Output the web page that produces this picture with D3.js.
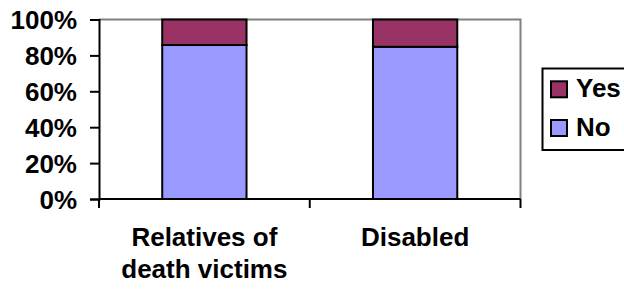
<!DOCTYPE html>
<html><head><meta charset="utf-8">
<script src="https://cdn.jsdelivr.net/npm/d3@7"></script>
<style>
html,body{margin:0;padding:0;background:#fff;}
svg{display:block;}
text{font-family:"Liberation Sans",Arial,sans-serif;font-weight:bold;fill:#000;}
</style></head>
<body><svg id="c" width="624" height="289"></svg>
<script>
const categories = [["Relatives of","death victims"],["Disabled"]];
const noValues = [85.8, 84.8];
const yesValues = [14.2, 15.2];
const seriesNames = ["Yes","No"];
const seriesColors = {Yes:"#993366", No:"#9999FF"};
const yTicks = [0,20,40,60,80,100];

const svg = d3.select("#c");
const L=99, R=520.5, T=19.5, B=199;
const x = d3.scaleBand().domain(d3.range(categories.length)).range([L,R]).paddingInner(0.6).paddingOuter(0.3);
const xOuter = d3.scaleBand().domain(d3.range(categories.length)).range([L,R]);
const y = d3.scaleLinear().domain([0,100]).range([B,T]);

// plot border (grey top/right)
svg.append("path").attr("d",`M${L},${T}H${R}V${B}`).attr("fill","none").attr("stroke","#808080").attr("stroke-width",2);

const data = categories.map((c,i)=>({i, No:noValues[i], Yes:yesValues[i]}));
const stack = d3.stack().keys(["No","Yes"])(data);
svg.append("g").selectAll("g").data(stack).join("g")
  .attr("fill",d=>seriesColors[d.key])
  .selectAll("rect").data(d=>d).join("rect")
  .attr("x",d=>x(d.data.i)).attr("width",x.bandwidth())
  .attr("y",d=>y(d[1])).attr("height",d=>y(d[0])-y(d[1]))
  .attr("stroke","#000").attr("stroke-width",2);

// y axis
const ya = svg.append("g").attr("transform",`translate(${L},0)`)
  .call(d3.axisLeft(y).tickValues(yTicks).tickFormat(d=>d+"%").tickSize(9).tickPadding(13));
ya.select(".domain").attr("stroke","#000").attr("stroke-width",2);
ya.selectAll(".tick line").attr("stroke","#000").attr("stroke-width",2);
ya.selectAll("text").attr("font-size",26).style("font-family","'Liberation Sans',Arial,sans-serif").style("font-weight","bold").attr("dy","0.36em");

// x axis
const xa = svg.append("g").attr("transform",`translate(0,${B})`);
xa.append("line").attr("x1",L).attr("x2",R).attr("stroke","#000").attr("stroke-width",2);
const bounds = d3.range(categories.length+1).map(i=> i<categories.length ? xOuter(i) : R);
xa.selectAll("line.t").data(bounds).join("line").attr("class","t")
  .attr("x1",d=>d).attr("x2",d=>d).attr("y1",0).attr("y2",9).attr("stroke","#000").attr("stroke-width",2);
const lbl = svg.append("g").selectAll("text").data(categories).join("text")
  .attr("x",(d,i)=>xOuter(i)+xOuter.bandwidth()/2).attr("y",246)
  .attr("text-anchor","middle").attr("font-size",26);
lbl.selectAll("tspan").data(d=>d).join("tspan")
  .attr("x",function(){return this.parentNode.getAttribute("x");})
  .attr("dy",(d,j)=>j===0?0:32).text(d=>d);

// legend
const lg = svg.append("g");
lg.append("rect").attr("x",542.5).attr("y",68.5).attr("width",100).attr("height",81.5)
  .attr("fill","#fff").attr("stroke","#000").attr("stroke-width",2);
const legY = {Yes:97.3, No:136};
seriesNames.forEach(n=>{
  lg.append("rect").attr("x",551).attr("y",legY[n]-16).attr("width",16).attr("height",16)
    .attr("fill",seriesColors[n]).attr("stroke","#000").attr("stroke-width",2);
  lg.append("text").attr("x",576).attr("y",legY[n]).attr("font-size",26).text(n);
});
</script></body></html>
